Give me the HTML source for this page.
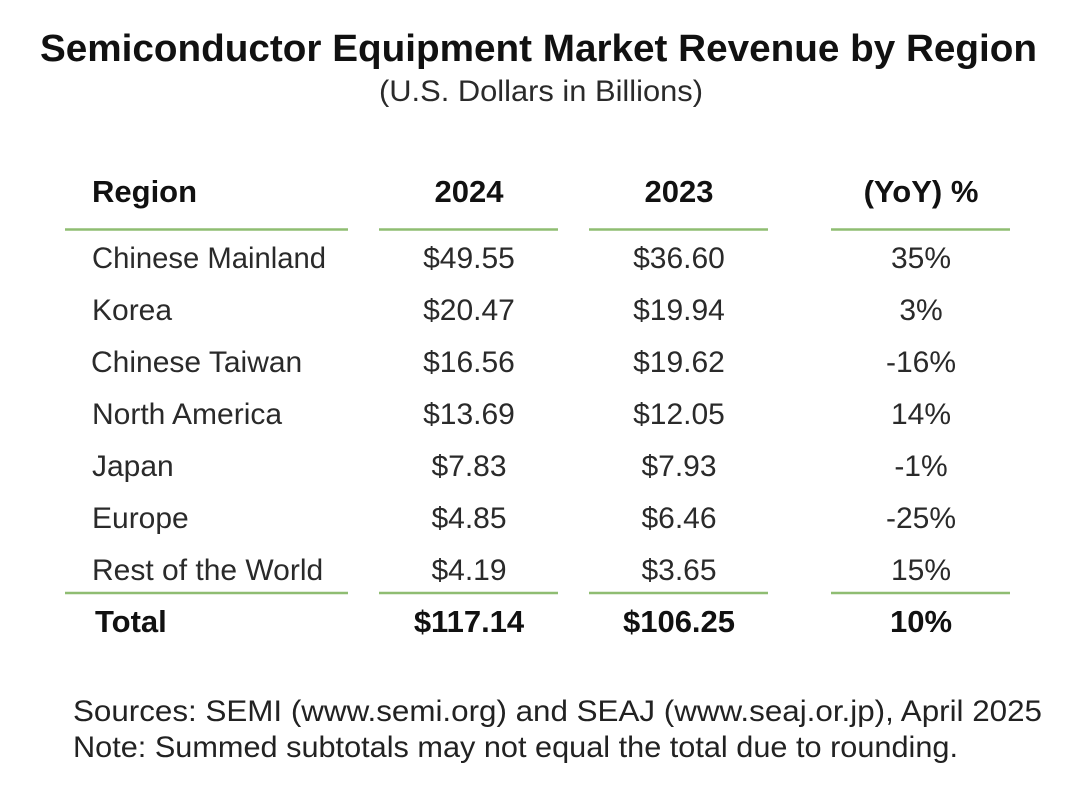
<!DOCTYPE html>
<html>
<head>
<meta charset="utf-8">
<style>
html,body{margin:0;padding:0;background:#fff;}
svg{display:block;}
text{font-family:"Liberation Sans",Arial,sans-serif;}
.b{font-weight:bold;fill:#111;}
.r{fill:#2a2a2a;font-size:30px;}
.h{font-weight:bold;fill:#111;font-size:31px;}
.c{text-anchor:middle;}
</style>
</head>
<body>
<svg width="1084" height="802" viewBox="0 0 1084 802" xmlns="http://www.w3.org/2000/svg">
<rect width="1084" height="802" fill="#fff"/>
<text x="40" y="61" class="b" font-size="38" textLength="997" lengthAdjust="spacingAndGlyphs">Semiconductor Equipment Market Revenue by Region</text>
<text x="379" y="101" font-size="30" fill="#2a2a2a" textLength="324" lengthAdjust="spacingAndGlyphs">(U.S. Dollars in Billions)</text>

<text x="92" y="202" class="h">Region</text>
<text x="469" y="202" class="h c">2024</text>
<text x="679" y="202" class="h c">2023</text>
<text x="921" y="202" class="h c">(YoY) %</text>

<g stroke="#8fbd72" stroke-width="2.5">
<line x1="65" y1="229.5" x2="348" y2="229.5"/>
<line x1="379" y1="229.5" x2="558" y2="229.5"/>
<line x1="589" y1="229.5" x2="768" y2="229.5"/>
<line x1="831" y1="229.5" x2="1010" y2="229.5"/>
<line x1="65" y1="593" x2="348" y2="593"/>
<line x1="379" y1="593" x2="558" y2="593"/>
<line x1="589" y1="593" x2="768" y2="593"/>
<line x1="831" y1="593" x2="1010" y2="593"/>
</g>

<g class="r">
<text x="92" y="268" textLength="234" lengthAdjust="spacingAndGlyphs">Chinese Mainland</text>
<text x="92" y="320">Korea</text>
<text x="91" y="372">Chinese Taiwan</text>
<text x="92" y="424">North America</text>
<text x="92" y="476">Japan</text>
<text x="92" y="528">Europe</text>
<text x="92" y="580">Rest of the World</text>
</g>

<g class="r c">
<text x="469" y="268">$49.55</text>
<text x="469" y="320">$20.47</text>
<text x="469" y="372">$16.56</text>
<text x="469" y="424">$13.69</text>
<text x="469" y="476">$7.83</text>
<text x="469" y="528">$4.85</text>
<text x="469" y="580">$4.19</text>

<text x="679" y="268">$36.60</text>
<text x="679" y="320">$19.94</text>
<text x="679" y="372">$19.62</text>
<text x="679" y="424">$12.05</text>
<text x="679" y="476">$7.93</text>
<text x="679" y="528">$6.46</text>
<text x="679" y="580">$3.65</text>

<text x="921" y="268">35%</text>
<text x="921" y="320">3%</text>
<text x="921" y="372">-16%</text>
<text x="921" y="424">14%</text>
<text x="921" y="476">-1%</text>
<text x="921" y="528">-25%</text>
<text x="921" y="580">15%</text>
</g>

<text x="95" y="632" class="h">Total</text>
<text x="469" y="632" class="h c">$117.14</text>
<text x="679" y="632" class="h c">$106.25</text>
<text x="921" y="632" class="h c">10%</text>

<text x="73" y="721" font-size="30" fill="#222" textLength="969" lengthAdjust="spacingAndGlyphs">Sources: SEMI (www.semi.org) and SEAJ (www.seaj.or.jp), April 2025</text>
<text x="73" y="757" font-size="30" fill="#222" textLength="885" lengthAdjust="spacingAndGlyphs">Note: Summed subtotals may not equal the total due to rounding.</text>
</svg>
</body>
</html>
